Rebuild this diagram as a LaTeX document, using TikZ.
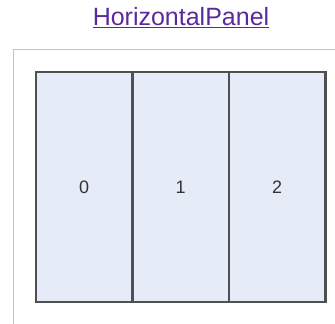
\documentclass[tikz,border=0pt]{standalone}
\usepackage{fontspec}
\setmainfont{Liberation Sans}
\usetikzlibrary{positioning}
\definecolor{linkpurple}{HTML}{5A2A9C}
\definecolor{panelblue}{HTML}{A6C4F6}
\definecolor{cellfill}{HTML}{E6ECF7}
\definecolor{cellline}{HTML}{505050}

\begin{document}
\begin{tikzpicture}[x=1pt, y=-1pt]
    \tikzstyle{cell} = [rectangle, draw=cellline, fill=cellfill, line width=2.5pt, outer sep=0pt, minimum width=96.5pt, minimum height=230pt, font=\fontsize{18}{20}\selectfont, text=black!80]
    \tikzstyle{panel} = [draw=panelblue, line width=1.5pt]
    \useasboundingbox (0,0) rectangle (335,324);

    \node[text=linkpurple, font=\fontsize{25}{28}\selectfont] (title) at (181,18) {\underline{HorizontalPanel}};
    \draw[panel] (336,49.5) -- (13.5,49.5) -- (13.5,325);

    \node[cell] (c0) at (84.25,187) {0};
    \node[cell, right=0pt of c0] (c1) {1};
    \node[cell, right=0pt of c1] (c2) {2};
\end{tikzpicture}
\end{document}
